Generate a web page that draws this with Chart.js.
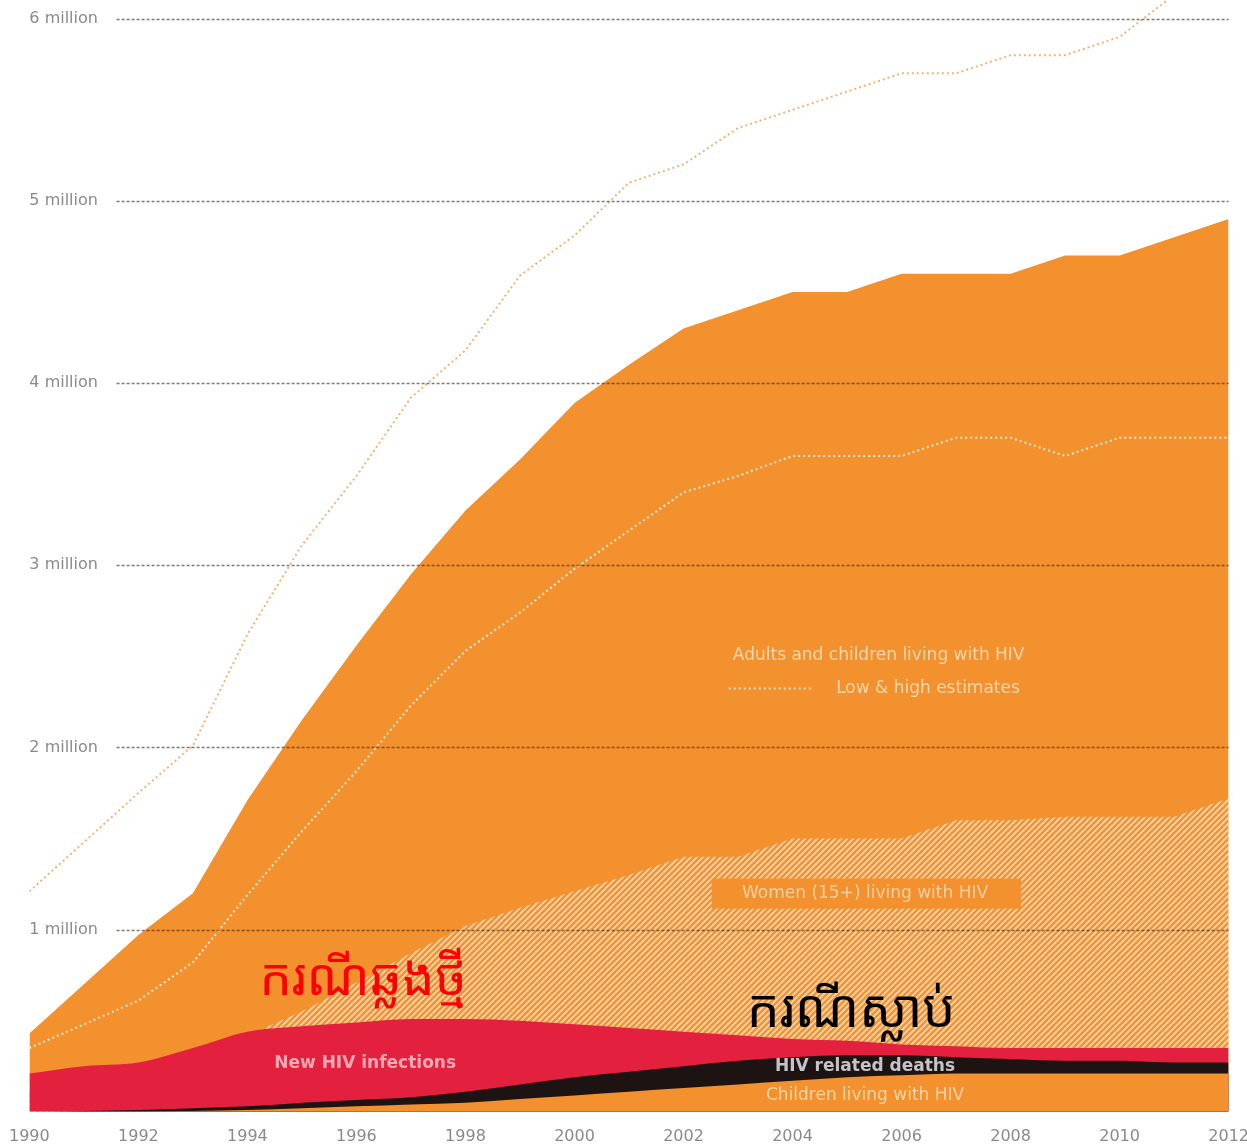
<!DOCTYPE html>
<html>
<head>
<meta charset="utf-8">
<script src="https://cdn.jsdelivr.net/npm/chart.js@4"></script>
<style>
html,body{margin:0;padding:0;background:#fff;overflow:hidden;}
#wrap{position:relative;width:1270px;height:1163px;margin-left:-6px;}
</style>
</head>
<body>
<div id="wrap"><canvas id="c"></canvas></div>
<script>
// ---- data (values in millions) ----
const years = [1990,1991,1992,1993,1994,1995,1996,1997,1998,1999,2000,2001,2002,2003,2004,2005,2006,2007,2008,2009,2010,2011,2012];
const totalLiving = [0.43,0.70,0.97,1.20,1.71,2.15,2.56,2.95,3.30,3.58,3.89,4.10,4.30,4.40,4.50,4.50,4.60,4.60,4.60,4.70,4.70,4.80,4.90];
const highEstimate = [1.21,1.48,1.75,2.01,2.62,3.11,3.49,3.92,4.18,4.59,4.81,5.10,5.20,5.40,5.50,5.60,5.70,5.70,5.80,5.80,5.90,6.13,6.40];
const lowEstimate = [0.35,0.48,0.61,0.82,1.19,1.54,1.87,2.23,2.53,2.74,2.98,3.19,3.40,3.49,3.60,3.60,3.60,3.70,3.70,3.60,3.70,3.70,3.70];
const womenLiving = [0.10,0.15,0.20,0.29,0.42,0.55,0.71,0.87,1.02,1.12,1.21,1.30,1.40,1.40,1.50,1.50,1.50,1.60,1.60,1.62,1.62,1.62,1.72];
const newInfections = [0.21,0.25,0.27,0.35,0.44,0.47,0.49,0.51,0.51,0.50,0.48,0.46,0.44,0.42,0.40,0.39,0.37,0.36,0.35,0.35,0.35,0.35,0.35];
const hivDeaths = [0.00,0.005,0.01,0.02,0.03,0.05,0.065,0.08,0.11,0.15,0.19,0.22,0.25,0.28,0.30,0.31,0.31,0.30,0.29,0.28,0.28,0.27,0.27];
const childrenLiving = [0.00,0.00,0.00,0.005,0.01,0.02,0.03,0.04,0.05,0.07,0.09,0.11,0.13,0.15,0.17,0.19,0.20,0.21,0.21,0.21,0.21,0.21,0.21];
const yTickValues = [1,2,3,4,5,6];
const xTickStep = 2;

const labelAdults = 'Adults and children living with HIV';
const labelEstimates = 'Low & high estimates';
const labelWomen = 'Women (15+) living with HIV';
const labelNew = 'New HIV infections';
const labelDeaths = 'HIV related deaths';
const labelChildren = 'Children living with HIV';
const khmerNew = 'ករណីឆ្លងថ្មី';
const khmerDeaths = 'ករណីស្លាប់';

// ---- styles ----
const ORANGE = '#F2912D';
const RED = '#E3213F';
const BLACK = '#1D1313';
const FONT = '"DejaVu Sans", "Open Sans", sans-serif';

function pts(arr){ return years.map((y,i)=>({x:y,y:arr[i]})); }

function makeHatch(){
  const s = 6;
  const c = document.createElement('canvas');
  c.width = s; c.height = s;
  const g = c.getContext('2d');
  g.fillStyle = '#F1902C';
  g.fillRect(0,0,s,s);
  g.strokeStyle = '#F9CE9C';
  g.lineWidth = 2;
  g.beginPath();
  g.moveTo(-1,1); g.lineTo(1,-1);
  g.moveTo(0,s); g.lineTo(s,0);
  g.moveTo(s-1,s+1); g.lineTo(s+1,s-1);
  g.stroke();
  return g.createPattern(c,'repeat');
}
const hatch = makeHatch();

const gridPlugin = {
  id:'gridOver',
  afterDatasetsDraw(chart){
    const {ctx, chartArea} = chart;
    const ys = chart.scales.y;
    const xs = chart.scales.x;
    ctx.save();
    ctx.strokeStyle = 'rgba(55,30,10,0.6)';
    ctx.lineWidth = 1.6;
    ctx.setLineDash([3,2]);
    yTickValues.forEach(v=>{
      const py = Math.round(ys.getPixelForValue(v)) + 0.5;
      ctx.beginPath();
      ctx.moveTo(xs.getPixelForValue(1991.6), py);
      ctx.lineTo(chartArea.right, py);
      ctx.stroke();
    });
    ctx.restore();
  }
};

const textPlugin = {
  id:'texts',
  afterDraw(chart){
    const {ctx} = chart;
    const xs = chart.scales.x, ys = chart.scales.y;
    const X = v=>xs.getPixelForValue(v), Y = v=>ys.getPixelForValue(v);
    ctx.save();
    ctx.textBaseline = 'middle';
    // adults label
    ctx.font = '17px ' + FONT;
    ctx.fillStyle = 'rgba(252,222,185,0.9)';
    ctx.textAlign = 'center';
    ctx.fillText(labelAdults, X(2005.58), Y(2.505));
    // estimates legend
    ctx.strokeStyle = 'rgba(252,230,200,0.95)';
    ctx.lineWidth = 2;
    ctx.setLineDash([2,3]);
    ctx.beginPath();
    ctx.moveTo(X(2002.83), Y(2.324));
    ctx.lineTo(X(2004.34), Y(2.324));
    ctx.stroke();
    ctx.setLineDash([]);
    ctx.textAlign = 'left';
    ctx.fillText(labelEstimates, X(2004.8), Y(2.324));
    // women label with box
    ctx.fillStyle = ORANGE;
    ctx.fillRect(X(2002.52), Y(1.28), X(2008.19)-X(2002.52), Y(1.115)-Y(1.28));
    ctx.fillStyle = 'rgba(252,215,175,0.9)';
    ctx.textAlign = 'center';
    ctx.fillText(labelWomen, X(2005.33), Y(1.198));
    // new infections
    ctx.font = 'bold 17px ' + FONT;
    ctx.fillStyle = 'rgba(250,175,185,0.95)';
    ctx.fillText(labelNew, X(1996.16), Y(0.264));
    // deaths
    ctx.fillStyle = 'rgba(205,205,210,0.95)';
    ctx.fillText(labelDeaths, X(2005.33), Y(0.247));
    // children
    ctx.font = '17px ' + FONT;
    ctx.fillStyle = 'rgba(252,215,170,0.95)';
    ctx.fillText(labelChildren, X(2005.33), Y(0.088));
    // khmer annotations
    ctx.textAlign = 'left';
    ctx.font = '51px "Noto Sans Khmer", "Khmer OS", "Noto Serif Khmer", sans-serif';
    ctx.fillStyle = '#FF0000';
    ctx.fillText(khmerNew, X(1994.22), Y(0.72));
    ctx.font = '52px "Noto Sans Khmer", "Khmer OS", "Noto Serif Khmer", sans-serif';
    ctx.fillStyle = '#000000';
    ctx.fillText(khmerDeaths, X(2003.16), Y(0.545));
    ctx.restore();
  }
};

const areaBase = {pointRadius:0, borderWidth:0, fill:'origin'};

new Chart(document.getElementById('c'), {
  type:'line',
  data:{
    datasets:[
      {label:'High estimate', data:pts(highEstimate), order:0, pointRadius:0, fill:false,
       borderColor:'#F5B272', borderWidth:2, borderDash:[2,3], tension:0, clip:{left:0,top:30,right:0,bottom:0}},
      {label:'Low estimate', data:pts(lowEstimate), order:1, pointRadius:0, fill:false,
       borderColor:'rgba(255,240,220,0.95)', borderWidth:2, borderDash:[2,3], tension:0},
      Object.assign({label:labelChildren, data:pts(childrenLiving), order:2, backgroundColor:ORANGE, borderColor:ORANGE, cubicInterpolationMode:'monotone'}, areaBase),
      Object.assign({label:labelDeaths, data:pts(hivDeaths), order:3, backgroundColor:BLACK, borderColor:BLACK, cubicInterpolationMode:'monotone'}, areaBase),
      Object.assign({label:labelNew, data:pts(newInfections), order:4, backgroundColor:RED, borderColor:RED, cubicInterpolationMode:'monotone'}, areaBase),
      Object.assign({label:labelWomen, data:pts(womenLiving), order:5, backgroundColor:hatch, borderColor:'rgba(0,0,0,0)', tension:0}, areaBase),
      Object.assign({label:labelAdults, data:pts(totalLiving), order:6, backgroundColor:ORANGE, borderColor:ORANGE, tension:0}, areaBase)
    ]
  },
  options:{
    responsive:true,
    maintainAspectRatio:false,
    animation:false,
    layout:{padding:{left:21,right:0,top:0,bottom:2}},
    plugins:{legend:{display:false}, tooltip:{enabled:false}},
    scales:{
      x:{type:'linear', min:1990, max:2012,
         ticks:{stepSize:xTickStep, callback:v=>String(v), padding:15, maxRotation:0, autoSkip:false,
                color:'#8a8a8a', font:{family:FONT, size:16}},
         grid:{display:false, drawTicks:false}, border:{display:false}},
      y:{min:0, max:6.05,
         afterBuildTicks:s=>{ s.ticks = yTickValues.map(v=>({value:v})); },
         ticks:{mirror:true, padding:0, callback:v=>v+' million', color:'#8a8a8a', font:{family:FONT, size:16}},
         grid:{display:false, drawTicks:false}, border:{display:false}}
    }
  },
  plugins:[gridPlugin, textPlugin]
});
</script>
</body>
</html>
